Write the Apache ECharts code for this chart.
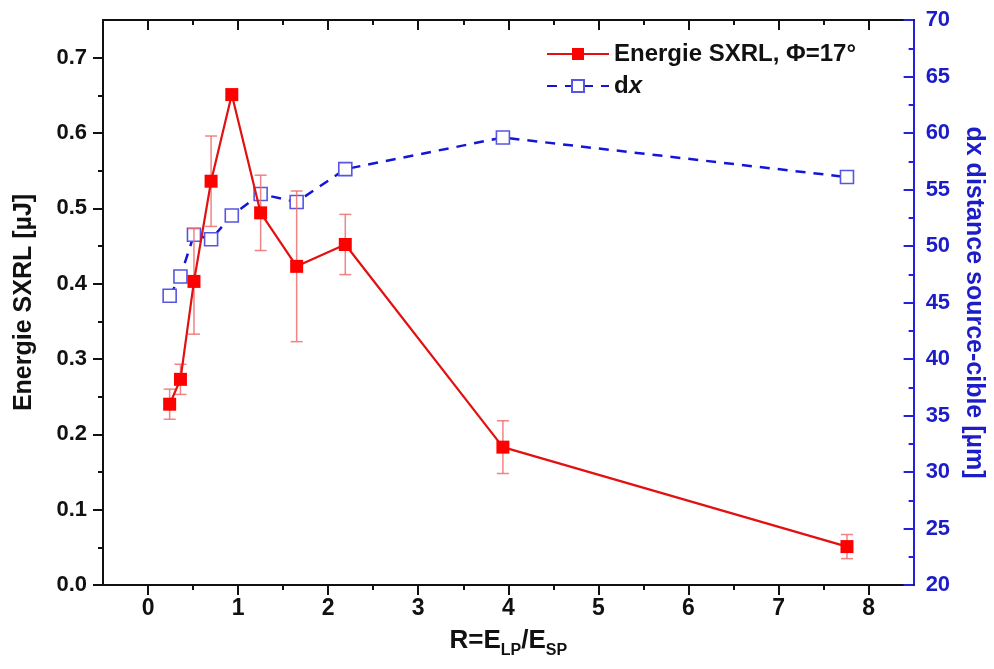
<!DOCTYPE html>
<html><head><meta charset="utf-8">
<script src="https://cdn.jsdelivr.net/npm/echarts@6/dist/echarts.min.js"></script>
<style>html,body{margin:0;padding:0;background:#fff}#c{width:994px;height:669px}</style>
</head><body><div id="c"></div>
<script>
// ---- data ----
const ratio     = [0.24, 0.36, 0.51, 0.70, 0.93, 1.25, 1.65, 2.19, 3.94, 7.76];
const energy    = [0.240, 0.273, 0.403, 0.536, 0.651, 0.494, 0.423, 0.452, 0.183, 0.051];
const energyErr = [0.020, 0.020, 0.070, 0.060, 0.000, 0.050, 0.100, 0.040, 0.035, 0.016];
const dx        = [45.6, 47.3, 51.0, 50.6, 52.7, 54.6, 53.9, 56.8, 59.6, 56.1];

const xTicks      = [0, 1, 2, 3, 4, 5, 6, 7, 8];
const xMinorTicks = [0.5, 1.5, 2.5, 3.5, 4.5, 5.5, 6.5, 7.5];
const yLeftTicks  = [0, 0.1, 0.2, 0.3, 0.4, 0.5, 0.6, 0.7];
const yLeftMinor  = [0.05, 0.15, 0.25, 0.35, 0.45, 0.55, 0.65];
const yRightTicks = [20, 25, 30, 35, 40, 45, 50, 55, 60, 65, 70];
const yRightMinor = [22.5, 27.5, 32.5, 37.5, 42.5, 47.5, 52.5, 57.5, 62.5, 67.5];

const nameEnergy = 'Energie SXRL, \u03A6=17\u00B0';
const nameDx = 'dx';

const FONT = 'Liberation Sans, Arial, sans-serif';
const BLACK = '#111';
const BLUE_AX = '#2222dd';
const BLUE_TXT = '#1c1cc8';

const energyPoints = ratio.map((r, i) => [r, energy[i]]);
const dxPoints = ratio.map((r, i) => [r, dx[i]]);
const errData = ratio.map((r, i) => [r, energy[i] - energyErr[i], energy[i] + energyErr[i]]);

const X_MIN = -0.5, X_MAX = 8.5;

function xAxisDef(pos, ticks, len, inside, showLabel, extra) {
  return Object.assign({
    type: 'value', position: pos, min: X_MIN, max: X_MAX,
    axisLine: { show: true, onZero: false, lineStyle: { color: BLACK, width: 2 } },
    axisTick: { show: true, inside: inside, length: len, customValues: ticks, lineStyle: { color: BLACK, width: 2 } },
    axisLabel: { show: showLabel, customValues: ticks, margin: 12, color: BLACK, fontFamily: FONT, fontSize: 23, fontWeight: 'bold' },
    splitLine: { show: false }
  }, extra || {});
}

const chart = echarts.init(document.getElementById('c'), null, { renderer: 'canvas' });
chart.setOption({
  animation: false,
  backgroundColor: '#fff',
  grid: { left: 103, right: 76, top: 20, bottom: 84, containLabel: false },
  legend: {
    left: 541, top: 37, orient: 'vertical', itemWidth: 62, itemHeight: 15, itemGap: 8,
    data: [nameEnergy, nameDx],
    formatter: n => n === nameDx ? '{a|d}{b|x}' : n,
    textStyle: {
      color: BLACK, fontFamily: FONT, fontSize: 24, fontWeight: 'bold',
      rich: {
        a: { color: BLACK, fontFamily: FONT, fontSize: 24, fontWeight: 'bold' },
        b: { color: BLACK, fontFamily: FONT, fontSize: 24, fontWeight: 'bold', fontStyle: 'italic' }
      }
    }
  },
  xAxis: [
    xAxisDef('bottom', xTicks, 10, false, true, {
      name: '{n|R=E}{s|LP}{n|/E}{s|SP}', nameLocation: 'middle', nameGap: 38,
      nameTextStyle: {
        rich: {
          n: { fontFamily: FONT, fontSize: 26, fontWeight: 'bold', color: BLACK, lineHeight: 36, verticalAlign: 'middle' },
          s: { fontFamily: FONT, fontSize: 16, fontWeight: 'bold', color: BLACK, lineHeight: 16, verticalAlign: 'bottom' }
        }
      }
    }),
    xAxisDef('bottom', xMinorTicks, 5, false, false),
    xAxisDef('top', xTicks, 10, true, false),
    xAxisDef('top', xMinorTicks, 5, true, false)
  ],
  yAxis: [
    {
      type: 'value', position: 'left', min: 0, max: 0.75,
      name: 'Energie SXRL [\u00B5J]', nameLocation: 'middle', nameGap: 66,
      nameTextStyle: { fontFamily: FONT, fontSize: 25, fontWeight: 'bold', color: BLACK },
      axisLine: { show: true, onZero: false, lineStyle: { color: BLACK, width: 2 } },
      axisTick: { show: true, inside: false, length: 10, customValues: yLeftTicks, lineStyle: { color: BLACK, width: 2 } },
      axisLabel: { customValues: yLeftTicks, margin: 16, color: BLACK, fontFamily: FONT, fontSize: 22, fontWeight: 'bold',
                   formatter: v => v.toFixed(1) },
      splitLine: { show: false }
    },
    {
      type: 'value', position: 'left', min: 0, max: 0.75,
      axisLine: { show: false, onZero: false },
      axisTick: { show: true, inside: false, length: 5, customValues: yLeftMinor, lineStyle: { color: BLACK, width: 2 } },
      axisLabel: { show: false }, splitLine: { show: false }
    },
    {
      type: 'value', position: 'right', min: 20, max: 70,
      name: 'dx distance source-cible [\u00B5m]', nameLocation: 'middle', nameGap: 47, nameRotate: -90,
      nameTextStyle: { fontFamily: FONT, fontSize: 25, fontWeight: 'bold', color: BLUE_TXT },
      axisLine: { show: true, onZero: false, lineStyle: { color: BLUE_AX, width: 2 } },
      axisTick: { show: true, inside: true, length: 10, customValues: yRightTicks, lineStyle: { color: BLUE_AX, width: 2 } },
      axisLabel: { customValues: yRightTicks, margin: 12, color: BLUE_TXT, fontFamily: FONT, fontSize: 22, fontWeight: 'bold' },
      splitLine: { show: false }
    },
    {
      type: 'value', position: 'right', min: 20, max: 70,
      axisLine: { show: false, onZero: false },
      axisTick: { show: true, inside: true, length: 5, customValues: yRightMinor, lineStyle: { color: BLUE_AX, width: 2 } },
      axisLabel: { show: false }, splitLine: { show: false }
    }
  ],
  series: [
    {
      name: nameDx, type: 'line', xAxisIndex: 0, yAxisIndex: 2, data: dxPoints,
      symbol: 'rect', symbolSize: 13, z: 3,
      lineStyle: { color: '#1515d8', width: 2.5, type: [10, 8] },
      itemStyle: { color: '#fff', borderColor: '#5656e2', borderWidth: 1.6 }
    },
    {
      name: 'err', type: 'custom', xAxisIndex: 0, yAxisIndex: 0, data: errData, z: 4,
      encode: { x: 0, y: [1, 2] },
      renderItem: (params, api) => {
        const x = api.value(0), lo = api.value(1), hi = api.value(2);
        if (hi - lo <= 0) return null;
        const pHi = api.coord([x, hi]), pLo = api.coord([x, lo]);
        const w = 6;
        const st = { stroke: 'rgba(238,110,110,0.85)', lineWidth: 1.5 };
        return { type: 'group', children: [
          { type: 'line', shape: { x1: pHi[0], y1: pHi[1], x2: pLo[0], y2: pLo[1] }, style: st },
          { type: 'line', shape: { x1: pHi[0] - w, y1: pHi[1], x2: pHi[0] + w, y2: pHi[1] }, style: st },
          { type: 'line', shape: { x1: pLo[0] - w, y1: pLo[1], x2: pLo[0] + w, y2: pLo[1] }, style: st }
        ]};
      }
    },
    {
      name: nameEnergy, type: 'line', xAxisIndex: 0, yAxisIndex: 0, data: energyPoints,
      symbol: 'rect', symbolSize: 13, z: 5,
      lineStyle: { color: '#e21010', width: 2.2 },
      itemStyle: { color: '#ff0000', borderColor: '#ff0000', borderWidth: 0 }
    }
  ]
});
</script>
</body></html>
